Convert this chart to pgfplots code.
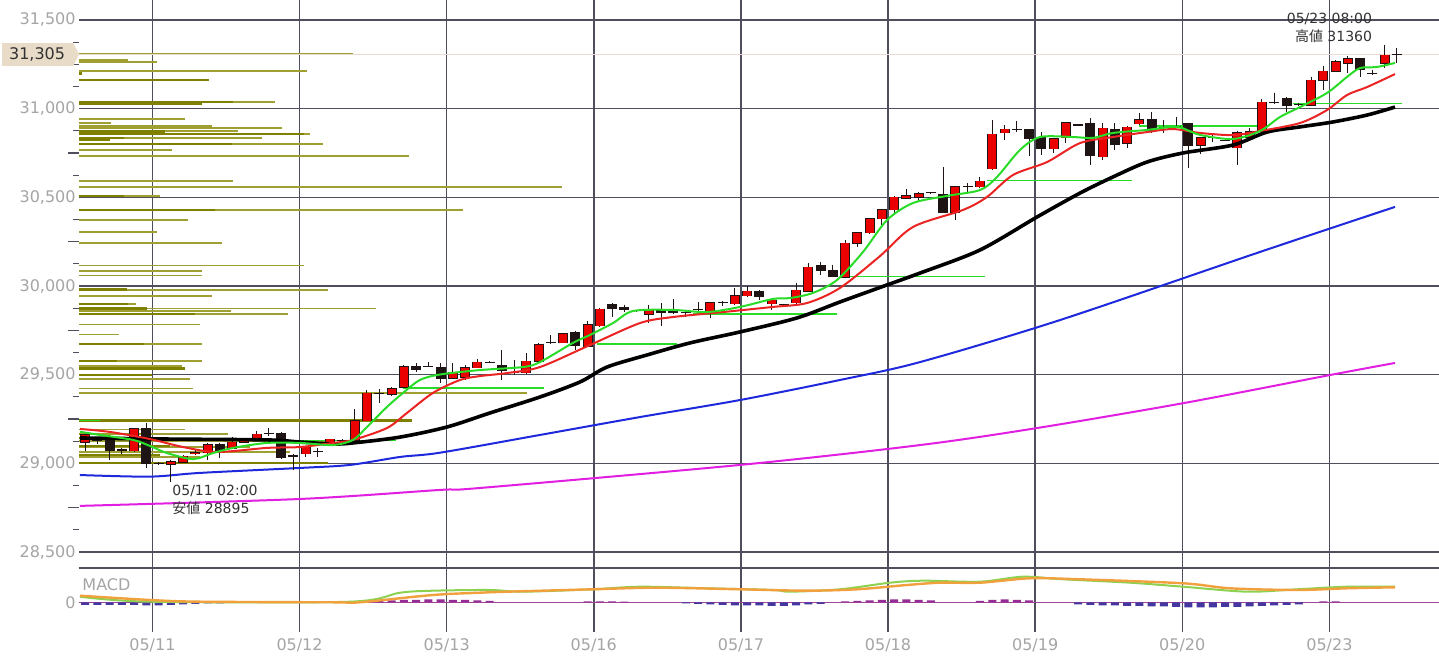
\documentclass[border=0pt]{standalone}
\usepackage{pgfplots}
\pgfplotsset{compat=1.18}
\usepackage{pgfplotstable}
\usepackage{fontspec}
\setmainfont{DejaVu Sans}
\newfontfamily\cjk{Noto Sans CJK JP}

\definecolor{cgrid}{RGB}{78,78,92}
\definecolor{clabel}{RGB}{165,165,165}
\definecolor{cvolthin}{RGB}{160,160,50}
\definecolor{cvolthick}{RGB}{128,128,0}
\definecolor{cred}{RGB}{235,0,0}
\definecolor{cdark}{RGB}{30,20,20}
\definecolor{cgma}{RGB}{40,220,40}
\definecolor{crma}{RGB}{235,35,35}
\definecolor{cbma}{RGB}{30,40,220}
\definecolor{cmma}{RGB}{225,30,225}
\definecolor{cpink}{RGB}{236,218,208}
\definecolor{cbox}{RGB}{232,220,200}
\definecolor{ctext}{RGB}{50,50,50}
\definecolor{cmg}{RGB}{140,210,80}
\definecolor{cmo}{RGB}{240,160,60}
\definecolor{chneg}{RGB}{70,55,160}
\definecolor{chpos}{RGB}{150,45,150}
\definecolor{czero}{RGB}{160,70,150}

% candles: index, open, high, low, close (2h bars)
\pgfplotstableread{
i o h l c
0 29120 29165 29070 29160
4 29070 29200 29065 29195
7 28995 29020 28895 29010
8 29005 29045 29000 29040
9 29055 29075 29045 29060
10 29060 29115 29020 29105
12 29085 29150 29080 29120
13 29120 29140 29115 29130
14 29135 29180 29130 29165
18 29055 29100 29035 29090
20 29110 29140 29105 29135
22 29130 29305 29125 29240
23 29240 29415 29240 29395
25 29390 29430 29380 29420
26 29430 29552 29430 29545
30 29480 29565 29475 29510
31 29485 29555 29470 29540
32 29540 29590 29535 29570
36 29510 29620 29505 29575
37 29575 29680 29570 29670
39 29680 29735 29678 29730
41 29660 29800 29655 29780
42 29775 29875 29770 29870
46 29840 29895 29790 29870
51 29860 29910 29820 29905
53 29900 29990 29893 29945
54 29945 30000 29940 29970
56 29900 29925 29865 29920
58 29905 30015 29900 29975
59 29970 30130 29970 30105
62 30050 30260 30045 30240
63 30240 30305 30220 30300
64 30300 30385 30293 30380
65 30380 30435 30335 30430
66 30430 30510 30400 30500
67 30495 30547 30490 30510
68 30502 30530 30475 30520
71 30415 30564 30372 30560
73 30560 30615 30552 30590
74 30660 30935 30654 30855
75 30865 30908 30823 30885
79 30775 30835 30750 30829
80 30835 30920 30805 30920
83 30730 30920 30710 30890
85 30806 30902 30778 30895
86 30914 30975 30908 30936
91 30795 30840 30745 30835
94 30780 30875 30680 30865
95 30840 30891 30835 30870
96 30874 31055 30870 31035
100 31020 31180 31015 31160
101 31160 31240 31105 31210
102 31210 31275 31205 31265
103 31255 31295 31200 31280
106 31255 31360 31230 31300
}\redc

\pgfplotstableread{
i o h l c
1 29130 29150 29110 29130
2 29150 29160 29020 29070
3 29075 29085 29055 29075
5 29195 29230 28975 29000
6 29000 29010 28990 29000
11 29105 29115 29030 29070
15 29170 29200 29155 29170
16 29170 29175 29025 29035
17 29045 29055 28960 29040
19 29065 29085 29035 29065
21 29130 29135 29125 29130
24 29395 29420 29340 29395
27 29545 29565 29515 29530
28 29545 29570 29545 29545
29 29540 29565 29455 29480
33 29570 29575 29565 29570
34 29550 29640 29470 29525
35 29510 29580 29500 29510
38 29679 29725 29675 29679
40 29735 29745 29640 29665
43 29895 29905 29825 29875
44 29880 29895 29855 29865
45 29860 29865 29855 29860
47 29865 29905 29775 29850
48 29859 29925 29842 29850
49 29850 29860 29825 29850
50 29865 29910 29855 29865
52 29905 29915 29887 29905
55 29970 29975 29920 29940
57 29895 29900 29890 29895
60 30115 30135 30060 30085
61 30085 30120 30050 30055
69 30525 30525 30520 30525
70 30515 30670 30415 30415
72 30560 30580 30525 30560
76 30885 30930 30870 30885
77 30880 30885 30735 30830
78 30835 30868 30740 30775
81 30908 30915 30902 30908
82 30915 30945 30680 30735
84 30885 30920 30765 30800
87 30940 30980 30863 30875
88 30895 30936 30863 30895
89 30902 30953 30891 30902
90 30914 30920 30665 30795
92 30835 30850 30810 30835
93 30823 30823 30818 30823
97 31035 31090 31026 31035
98 31055 31065 30980 31020
99 31025 31032 31015 31025
104 31280 31280 31180 31220
105 31200 31220 31190 31200
107 31305 31340 31255 31305
}\blkc

% volume by price: price level, end of bar (candle index)
\pgfplotstableread{
p e
31311 21.86
31275 3.51
31263 5.87
31212 18.1
31038 15.5
30942 8.16
30919 2.12
30902 10.36
30891 16.07
30874 12.48
30857 18.35
30835 14.44
30801 19.41
30767 7.10
30733 26.43
30592 12.07
30558 38.91
30508 6.12
30429 30.83
30372 8.40
30305 5.87
30243 11.17
30115 17.86
30085 9.54
30058 9.54
29978 19.82
29944 10.36
29899 4.16
29872 23.74
29859 11.91
29842 16.56
29782 9.38
29725 2.77
29673 9.54
29577 9.54
29549 7.91
29476 8.56
29421 8.81
29397 36.05
29190 8.16
29166 11.66
29126 19.98
29092 13.46
29064 16.72
29036 9.38
}\volthin

\pgfplotstableread{
p e
31196 -0.24
31162 10.11
31038 12.07
31031 9.55
30871 6.53
30857 17.9
30835 3.18
30823 2.04
30801 12.0
30508 3.18
30429 10.6
29978 3.43
29899 3.51
29872 5.06
29842 8.97
29673 4.81
29577 2.61
29534 8.16
29498 5.46
29241 26.67
29143 3.75
29098 6.93
29047 6.12
29002 19.82
}\volthick

\pgfplotstableread{
x y
-0.49 29240
1.2 29240
nan nan
13.5 29128
25.4 29128
nan nan
25.9 29425
37.4 29425
nan nan
41.8 29673
48.3 29673
nan nan
49.6 29842
61.3 29842
nan nan
62.2 30056
73.4 30056
nan nan
73.6 30594
85.4 30594
nan nan
86.0 30902
95.8 30902
nan nan
98.5 31030
107.4 31030
}\levels

\pgfplotstableread{
x y
-0.41 29178
1.22 29160
3.92 29132
5.30 29098
6.69 29058
8.81 29024
10.44 29058
12.07 29087
14.85 29115
17.54 29115
20.23 29103
21.86 29132
23.0 29205
24.63 29318
25.94 29397
27.32 29470
28.96 29501
32.22 29526
35.73 29543
37.11 29571
39.80 29679
41.19 29724
43.07 29791
44.70 29859
47.96 29865
50.73 29853
53.43 29882
56.12 29927
57.50 29932
59.38 29961
61.34 30034
63.46 30192
65.42 30372
67.54 30468
70.31 30508
73.0 30541
74.39 30615
76.26 30767
77.9 30840
80.59 30840
82.22 30835
83.85 30863
86.62 30880
89.07 30897
90.95 30852
93.64 30829
95.84 30874
97.47 30953
99.10 31009
101.3 31088
102.94 31179
104.0 31229
105.38 31235
106.85 31258
}\magreen

\pgfplotstableread{
x y
-0.41 29194
2.04 29177
5.30 29137
7.99 29092
10.77 29064
14.85 29087
17.54 29092
20.23 29115
21.86 29132
24.63 29199
26.26 29284
28.38 29397
30.59 29470
32.22 29492
34.42 29509
37.11 29543
41.19 29667
45.27 29791
47.96 29825
52.04 29853
56.12 29882
58.89 29904
61.58 29989
64.85 30169
67.54 30333
71.62 30429
73.57 30502
75.69 30626
78.47 30699
81.16 30806
83.85 30840
86.62 30868
88.74 30885
90.95 30863
93.64 30851
95.84 30874
99.10 30919
101.3 30992
102.94 31077
104.58 31122
106.85 31195
}\mared

\pgfplotstableread{
x y
-0.41 29143
6.69 29137
14.85 29132
17.54 29120
20.23 29109
21.86 29115
25.7 29148
29.53 29205
33.03 29284
37.11 29374
40.38 29459
42.58 29543
45.84 29611
49.35 29679
53.43 29741
58.08 29820
61.58 29910
65.42 30006
68.11 30073
73.0 30203
77.65 30389
81.16 30524
83.85 30615
86.62 30699
89.56 30750
93.64 30795
96.41 30868
99.10 30897
101.79 30925
104.58 30964
106.85 31009
}\mablack

\pgfplotstableread{
x y
-0.41 28934
5.30 28925
9.38 28946
17.54 28974
21.61 28991
25.7 29036
28.96 29060
37.11 29160
45.27 29261
53.43 29357
61.58 29470
68.11 29571
79.53 29808
95.84 30192
106.85 30446
}\mablue

\pgfplotstableread{
x y
-0.41 28760
17.54 28799
28.96 28850
32.22 28861
53.43 28991
68.11 29103
77.65 29199
89.64 29340
101.55 29498
106.85 29566
}\mamag

% MACD panel
\pgfplotstableread{
x y
-0.41 5.8
5.30 0.8
21.61 0.8
25.7 9.8
28.38 11.8
33.03 12.5
35.73 10.8
41.4 13.2
45.27 15.8
50.73 14.2
56.12 12.5
57.5 10.8
61.58 13.2
65.66 19.8
68.35 21.8
73.0 20.8
76.5 25.8
79.77 23.2
85.24 19.8
89.56 15.8
94.78 10.8
98.86 13.2
102.94 15.8
106.85 15.8
}\macdg

\pgfplotstableread{
x y
-0.41 6.8
5.30 2.5
9.38 0.8
20.23 0.2
22.4 0.2
28.38 7.5
32.22 9.8
34.42 10.8
41.4 13.2
46.66 14.8
53.43 13.2
58.89 11.8
62.97 13.2
67.05 17.5
69.74 19.8
73.0 19.8
77.08 24.2
81.16 23.2
89.56 19.2
93.39 14.2
98.86 12.5
102.94 14.2
106.85 15.2
}\macdo

\pgfplotstableread{
i v
0 -2.5
1 -2.5
2 -2.5
3 -2.5
4 -2.5
5 -3
6 -3
7 -2.5
8 -2
9 -1.5
10 -1
11 -0.8
49 -1
50 -1.5
51 -2
52 -2.5
53 -3
54 -3
55 -3
56 -3.5
57 -3.5
58 -3
59 -2
60 -1.5
81 -2
82 -2.5
83 -3
84 -3
85 -3.5
86 -3.5
87 -4
88 -4
89 -4.5
90 -5
91 -5
92 -5
93 -4.5
94 -4.5
95 -4
96 -3.5
97 -3
98 -2.5
99 -2
}\histneg

\pgfplotstableread{
i v
24 1.5
25 2
26 2.5
27 2.5
28 3
29 3
30 2.5
31 2.5
32 2
33 1.5
41 1
42 1
43 1
44 0.8
62 1
63 1.5
64 2
65 2.5
66 3
67 3
68 2.5
69 2
73 1.5
74 2.5
75 3
76 2.5
77 2
101 1
102 1
}\histpos

\begin{document}
\begin{tikzpicture}[font=\fontsize{8}{9.6}\selectfont]
\useasboundingbox (0,0) rectangle (719.5pt,331.5pt);
\fill[white] (0,0) rectangle (719.5pt,331.5pt);

\begin{axis}[
  at={(39.5pt,47.5pt)}, anchor=south west,
  scale only axis, width=680pt, height=284pt,
  xmin=-0.49, xmax=110.44, ymin=28409.8, ymax=31612.8,
  axis line style={draw=none},
  xtick={5.5,17.5,29.5,41.5,53.5,65.5,77.5,89.5,101.5}, xticklabels={},
  ytick={28500,29000,...,31500},
  minor ytick={28625,28875,29125,29375,29625,29875,30125,30375,30625,30875,31125,31375},
  extra y ticks={28750,29250,29750,30250,30750,31250},
  extra y tick labels={},
  extra y tick style={grid=none, major tick length=5.5pt},
  major tick length=0pt, minor tick length=3pt,
  tick align=outside, ytick pos=left, xtick pos=bottom,
  tick style={cgrid, line width=0.6pt},
  grid=major, major grid style={cgrid, line width=0.7pt},
  scaled y ticks=false,
  yticklabel style={text=clabel, inner sep=0pt, xshift=-1.5pt,
    /pgf/number format/fixed, /pgf/number format/1000 sep={,}},
  /pgf/number format/assume math mode=true,
  clip mode=individual,
  candle/.style={draw=none, mark=none, forget plot},
]
  % last price line
  \addplot[cpink, line width=0.6pt, forget plot] coordinates {(-0.49,31305) (110.44,31305)};
  % volume by price
  \addplot[candle, error bars/.cd, x dir=plus, x explicit,
    error mark=none, error bar style={draw=cvolthin, line width=0.65pt}]
    table[x expr=-0.49, y=p, x error plus expr={\thisrow{e}+0.49}] {\volthin};
  \addplot[candle, error bars/.cd, x dir=plus, x explicit,
    error mark=none, error bar style={draw=cvolthick, line width=1.4pt}]
    table[x expr=-0.49, y=p, x error plus expr={\thisrow{e}+0.49}] {\volthick};
  % moving averages (long ones behind)
  \addplot[cmma, line width=1pt, smooth] table[x=x, y=y] {\mamag};
  \addplot[cbma, line width=1pt, smooth] table[x=x, y=y] {\mablue};
  % green level lines
  \addplot[cgma, line width=0.55pt, unbounded coords=jump] table[x=x, y=y] {\levels};
  % wicks
  \addplot[candle, error bars/.cd, y dir=minus, y explicit,
    error mark=none, error bar style={draw=cdark, line width=0.5pt}]
    table[x=i, y=h, y error minus expr={\thisrow{h}-\thisrow{l}}] {\redc};
  \addplot[candle, error bars/.cd, y dir=minus, y explicit,
    error mark=none, error bar style={draw=cdark, line width=0.5pt}]
    table[x=i, y=h, y error minus expr={\thisrow{h}-\thisrow{l}}] {\blkc};
  % bodies
  \addplot[candle, error bars/.cd, y dir=minus, y explicit,
    error mark=none, error bar style={draw=cdark, line width=5pt}]
    table[x=i, y expr={max(\thisrow{o},\thisrow{c})+3},
          y error minus expr={abs(\thisrow{o}-\thisrow{c})+6}] {\redc};
  \addplot[candle, error bars/.cd, y dir=minus, y explicit,
    error mark=none, error bar style={draw=cred, line width=4pt}]
    table[x=i, y expr={max(\thisrow{o},\thisrow{c})},
          y error minus expr={abs(\thisrow{o}-\thisrow{c})}] {\redc};
  \addplot[candle, error bars/.cd, y dir=minus, y explicit,
    error mark=none, error bar style={draw=cdark, line width=5pt}]
    table[x=i, y expr={max(\thisrow{o},\thisrow{c})+3},
          y error minus expr={abs(\thisrow{o}-\thisrow{c})+6}] {\blkc};
  % short moving averages
  \addplot[black, line width=1.8pt, smooth] table[x=x, y=y] {\mablack};
  \addplot[crma, line width=1pt, smooth] table[x=x, y=y] {\mared};
  \addplot[cgma, line width=1pt, smooth] table[x=x, y=y] {\magreen};
  % annotations
  \node[anchor=east, text=ctext, font=\fontsize{7}{8}\selectfont] at (axis cs:105.55,31506) {05/23 08:00};
  \node[anchor=east, text=ctext, font=\fontsize{7}{8}\selectfont] at (axis cs:105.55,31410) {{\cjk 高値} 31360};
  \node[anchor=west, text=ctext, font=\fontsize{7}{8}\selectfont, inner sep=0pt] at (axis cs:7.1,28844) {05/11 02:00};
  \node[anchor=west, text=ctext, font=\fontsize{7}{8}\selectfont, inner sep=0pt] at (axis cs:7.1,28748) {{\cjk 安値} 28895};
  \node[fill=cbox, text=ctext, anchor=east, minimum height=11.5pt, minimum width=35.5pt,
        inner sep=0pt] (lab) at (axis cs:-0.49,31305) [xshift=-3pt] {31,305};
  \fill[cbox] (lab.north east) -- ++(3pt,-5.75pt) -- (lab.south east) -- cycle;
\end{axis}

\begin{axis}[
  at={(39.5pt,15.5pt)}, anchor=south west,
  scale only axis, width=680pt, height=32pt,
  xmin=-0.49, xmax=110.44, ymin=-29.5, ymax=34.5,
  axis line style={draw=none},
  xtick={5.5,17.5,29.5,41.5,53.5,65.5,77.5,89.5,101.5},
  xticklabels={05/11,05/12,05/13,05/16,05/17,05/18,05/19,05/20,05/23},
  ytick={0}, yticklabels={0},
  extra y ticks={34.5}, extra y tick labels={},
  extra y tick style={grid=major},
  xmajorgrids, ymajorgrids=false,
  major grid style={cgrid, line width=0.7pt},
  major tick length=0pt,
  xticklabel style={text=clabel},
  yticklabel style={text=clabel, inner sep=0pt, xshift=-1.5pt},
  /pgf/number format/assume math mode=true,
  clip mode=individual,
]
  \addplot[czero, line width=0.5pt, forget plot] coordinates {(-0.49,0) (110.44,0)};
  \addplot[ybar, bar width=4pt, bar shift=0pt, draw=none, fill=chneg, forget plot]
    table[x=i, y=v] {\histneg};
  \addplot[ybar, bar width=4pt, bar shift=0pt, draw=none, fill=chpos, forget plot]
    table[x=i, y=v] {\histpos};
  \addplot[cmg, line width=1pt, smooth] table[x=x, y=y] {\macdg};
  \addplot[cmo, line width=1.2pt, smooth] table[x=x, y=y] {\macdo};
  \node[anchor=west, text=clabel, inner sep=0pt] at (axis cs:-0.24,18) {MACD};
\end{axis}
\end{tikzpicture}
\end{document}
